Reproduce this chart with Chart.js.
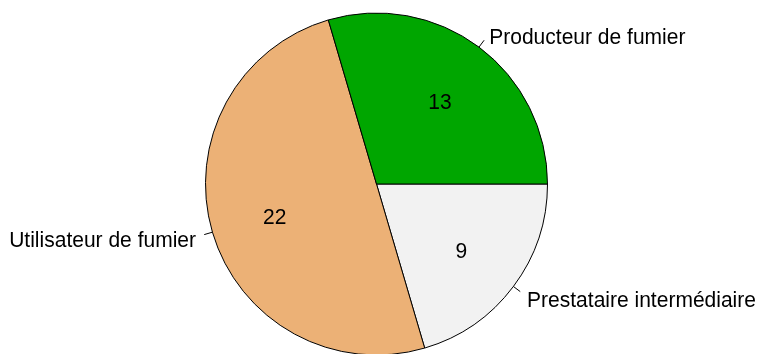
<!DOCTYPE html>
<html>
<head>
<meta charset="utf-8">
<script src="https://cdn.jsdelivr.net/npm/chart.js@4/dist/chart.umd.min.js"></script>
<style>
  html, body { margin: 0; padding: 0; background: #fff; overflow: hidden; }
  #wrap { position: absolute; left: 0; top: 0; width: 762px; height: 360px; }
</style>
</head>
<body>
<div id="wrap"><canvas id="pie" width="762" height="360"></canvas></div>
<script>
// slices listed clockwise from 3 o'clock
const categories = ["Prestataire intermédiaire", "Utilisateur de fumier", "Producteur de fumier"];
const counts = [9, 22, 13];
const sliceColors = ["#F2F2F2", "#ECB176", "#00A600"];

const FONT = '"Liberation Sans", Arial, sans-serif';
const TEXT_SCALE_X = 0.955;

function drawText(ctx, str, x, y, align) {
  ctx.save();
  ctx.translate(x, y);
  ctx.scale(TEXT_SCALE_X, 1);
  ctx.textAlign = align;
  ctx.fillText(str, 0, 0);
  ctx.restore();
}

// tick marks, outside names and inside counts
const pieLabels = {
  id: "pieLabels",
  afterDraw(chart) {
    const ctx = chart.ctx;
    const arcs = chart.getDatasetMeta(0).data;
    ctx.save();
    ctx.fillStyle = "#000";
    ctx.strokeStyle = "#000";
    ctx.lineWidth = 1;
    ctx.textBaseline = "alphabetic";
    ctx.font = "22px " + FONT;
    arcs.forEach((arc, i) => {
      const p = arc.getProps(["x", "y", "startAngle", "endAngle", "outerRadius"], true);
      const mid = (p.startAngle + p.endAngle) / 2;
      const c = Math.cos(mid), s = Math.sin(mid);
      const r = p.outerRadius;
      ctx.beginPath();
      ctx.moveTo(p.x + c * r, p.y + s * r);
      ctx.lineTo(p.x + c * r * 1.05, p.y + s * r * 1.05);
      ctx.stroke();
      drawText(ctx, categories[i], p.x + c * r * 1.1, p.y + s * r * 1.1 + 10.5, c < 0 ? "right" : "left");
      drawText(ctx, String(counts[i]), p.x + c * r * 0.62, p.y + s * r * 0.62 + 10, "center");
    });
    ctx.restore();
  }
};

new Chart(document.getElementById("pie"), {
  type: "pie",
  data: {
    labels: categories,
    datasets: [{
      data: counts,
      backgroundColor: sliceColors,
      borderColor: "#000",
      borderWidth: 1
    }]
  },
  options: {
    responsive: false,
    animation: false,
    devicePixelRatio: 1,
    rotation: 90,
    layout: { padding: { left: 205, right: 214, top: 12.5, bottom: 4.5 } },
    plugins: {
      legend: { display: false },
      tooltip: { enabled: false }
    }
  },
  plugins: [pieLabels]
});
</script>
</body>
</html>
